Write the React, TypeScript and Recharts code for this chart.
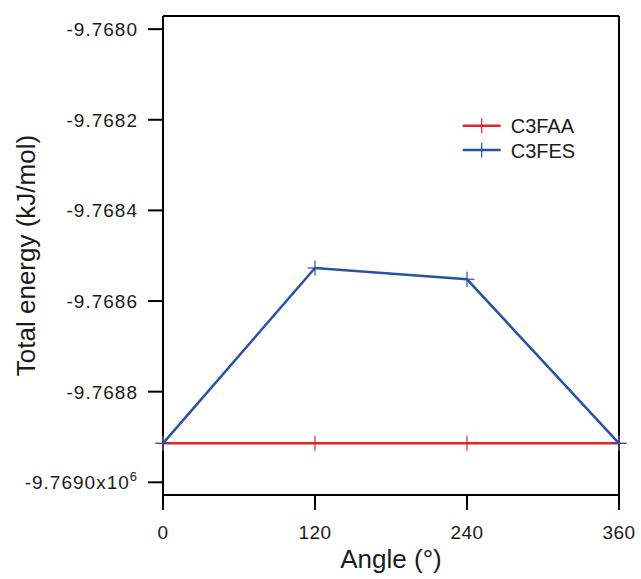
import React from 'react';
import { LineChart, Line, XAxis, YAxis, Legend, Label, ReferenceLine } from 'recharts';

const angles = [0, 120, 240, 360];
const c3faa = [-9.768914, -9.768914, -9.768914, -9.768914];
const c3fes = [-9.768914, -9.768527, -9.768552, -9.768914];
const xTicks = [0, 120, 240, 360];
const yTicks = [-9.769, -9.7688, -9.7686, -9.7684, -9.7682, -9.768];
const seriesNames = ['C3FAA', 'C3FES'];

const data = angles.map((a, i) => ({ angle: a, C3FAA: c3faa[i], C3FES: c3fes[i] }));

const FONT = '"Liberation Sans", Arial, Helvetica, sans-serif';
const RED = '#e3242b';
const BLUE = '#2a52a3';
const TEXT = '#1a1a1a';
const Y_DOMAIN: [number, number] = [-9.769028, -9.767971];
const X_DOMAIN: [number, number] = [0, 360];

const Cross = (props: any) => {
  const { cx, cy, stroke } = props;
  if (cx == null || cy == null) return null;
  return (
    <g>
      <line x1={cx - 7.5} x2={cx + 7.5} y1={cy} y2={cy} stroke={stroke} strokeWidth={1.2} />
      <line x1={cx} x2={cx} y1={cy - 7.5} y2={cy + 7.5} stroke={stroke} strokeWidth={1.2} />
    </g>
  );
};

const YTick = (props: any) => {
  const { x, y, payload } = props;
  const v = Number(payload.value);
  const label = v.toFixed(4);
  const isLast = Math.abs(v - yTicks[0]) < 1e-9;
  return (
    <text x={x} y={y} dy={7} textAnchor="end" fontSize={19} fill={TEXT} fontFamily={FONT} letterSpacing={1}>
      {isLast ? (
        <>
          {label}x10<tspan dy={-8} fontSize={13}>6</tspan>
        </>
      ) : (
        label
      )}
    </text>
  );
};

const XTick = (props: any) => {
  const { x, y, payload } = props;
  return (
    <text x={x} y={y} dy={27} textAnchor="middle" fontSize={19} fill={TEXT} fontFamily={FONT} letterSpacing={0.5}>
      {payload.value}
    </text>
  );
};

const YLabel = (props: any) => {
  const vb = props.viewBox || { x: 0, y: 16, width: 163, height: 479 };
  const cx = vb.x + 35;
  const cy = vb.y + vb.height / 2;
  return (
    <text
      x={cx}
      y={cy}
      transform={`rotate(-90 ${cx} ${cy})`}
      textAnchor="middle"
      fontSize={26}
      fill={TEXT}
      fontFamily={FONT}
    >
      Total energy (kJ/mol)
    </text>
  );
};

const LegendContent = (props: any) => {
  const payload = (props.payload || []).filter((p: any) => seriesNames.includes(p.value));
  return (
    <svg width={140} height={60}>
      {payload.map((p: any, i: number) => {
        const yy = 15.7 + i * 24.3;
        return (
          <g key={p.value}>
            <line x1={7.7} x2={45.7} y1={yy} y2={yy} stroke={p.color} strokeWidth={2.5} />
            <line x1={26.7} x2={26.7} y1={yy - 7.5} y2={yy + 7.5} stroke={p.color} strokeWidth={1.2} />
            <text x={55.7} y={yy + 7.6} fontSize={20} fill={TEXT} fontFamily={FONT}>
              {p.value}
            </text>
          </g>
        );
      })}
    </svg>
  );
};

export default function App() {
  return (
    <div style={{ position: 'absolute', left: 0, top: 0, width: 641, height: 579, background: '#fff' }}>
      <LineChart width={641} height={579} data={data} margin={{ top: 16, right: 22, bottom: 0, left: 0 }}>
        <XAxis
          dataKey="angle"
          type="number"
          domain={X_DOMAIN}
          ticks={xTicks}
          tick={<XTick />}
          tickSize={15}
          tickMargin={2}
          height={84}
          axisLine={{ stroke: '#000', strokeWidth: 2 }}
          tickLine={{ stroke: '#000', strokeWidth: 2 }}
          interval={0}
        >
          <Label value="Angle (°)" position="insideBottom" offset={11} fontSize={26} fill={TEXT} fontFamily={FONT} />
        </XAxis>
        <YAxis
          type="number"
          domain={Y_DOMAIN}
          ticks={yTicks}
          tick={<YTick />}
          tickSize={15}
          tickMargin={10}
          width={163}
          axisLine={{ stroke: '#000', strokeWidth: 2 }}
          tickLine={{ stroke: '#000', strokeWidth: 2 }}
          interval={0}
          allowDataOverflow
        >
          <Label content={<YLabel />} />
        </YAxis>
        <ReferenceLine y={Y_DOMAIN[1]} stroke="#000" strokeWidth={2} ifOverflow="extendDomain" />
        <ReferenceLine x={X_DOMAIN[1]} stroke="#000" strokeWidth={2} ifOverflow="extendDomain" />
        <Legend
          layout="horizontal"
          verticalAlign="middle"
          align="center"
          content={<LegendContent />}
          wrapperStyle={{ position: 'absolute', left: 455, top: 110, width: 140, height: 60 }}
        />
        <Line
          dataKey="C3FAA"
          name="C3FAA"
          stroke={RED}
          strokeWidth={2.5}
          dot={<Cross />}
          activeDot={false}
          isAnimationActive={false}
        />
        <Line
          dataKey="C3FES"
          name="C3FES"
          stroke={BLUE}
          strokeWidth={2.5}
          dot={<Cross />}
          activeDot={false}
          isAnimationActive={false}
        />
      </LineChart>
    </div>
  );
}
